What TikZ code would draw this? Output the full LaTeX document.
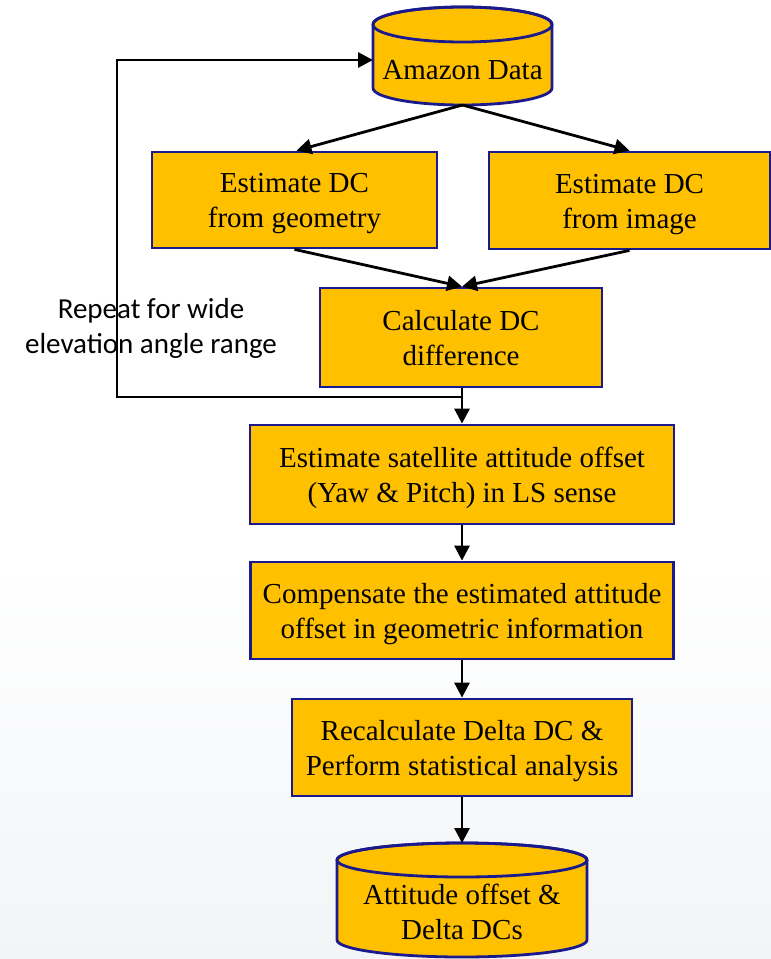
\documentclass[tikz,border=0pt]{standalone}
\usepackage{fontspec}
\setmainfont{Liberation Serif}
\newfontfamily\calib{Carlito}
\usetikzlibrary{arrows.meta}
\definecolor{boxfill}{HTML}{FFC000}
\definecolor{boxline}{HTML}{1A1A8C}
\definecolor{bgbot}{RGB}{242,244,247}
\newcommand{\stT}{\rule{0pt}{27pt}}
\newcommand{\stB}{\rule[-6pt]{0pt}{6pt}}
\begin{document}
\begin{tikzpicture}[x=1pt,y=1pt,
  box/.style={draw=boxline,line width=2.8pt,fill=boxfill,inner sep=0pt,align=center,
    font=\fontsize{29}{35}\selectfont},
  cylbody/.style={draw=boxline,line width=2.8pt,fill=boxfill},
  cyltext/.style={inner sep=0pt,align=center,font=\fontsize{29}{35}\selectfont},
  conn/.style={draw=black,line width=2.8pt},
  arr/.style={conn,-{Triangle[length=15pt,width=15pt]}},
  note/.style={inner sep=0pt,align=center,font=\calib\fontsize{29}{35}\selectfont}]
\useasboundingbox (0,0) rectangle (771,-959);
\fill[white] (0,0) rectangle (771,-959);
\shade[top color=white,bottom color=bgbot] (0,-560) rectangle (771,-959);

% top cylinder
\path[cylbody] (373,-24.5) -- (373,-88) arc[start angle=180,end angle=360,x radius=89.5,y radius=17]
  -- (552,-24.5) arc[start angle=0,end angle=180,x radius=89.5,y radius=17.5] -- cycle;
\draw[draw=boxline,line width=2.8pt] (462.5,-24.5) ellipse[x radius=89.5,y radius=17.5];
\node[cyltext] (amz) at (462.5,-70) {Amazon Data};
\coordinate (amzb) at (462.5,-105);
\coordinate (amzl) at (373,-60);

% boxes
\node[box,minimum width=285pt,minimum height=96pt] (geo) at (294.5,-200) {\stT Estimate DC\\from geometry\stB};
\node[box,minimum width=281pt,minimum height=97pt] (img) at (629.5,-200.5) {\stT Estimate DC\\from image\stB};
\node[box,minimum width=282pt,minimum height=99pt] (calc) at (461,-337.5) {\stT Calculate DC\\difference\stB};
\node[box,minimum width=424pt,minimum height=99pt] (est) at (462,-474.5) {\stT Estimate satellite attitude offset\\(Yaw \& Pitch) in LS sense\stB};
\node[box,minimum width=423pt,minimum height=97pt] (comp) at (462,-610.5) {\stT Compensate the estimated attitude\\offset in geometric information\stB};
\node[box,minimum width=340pt,minimum height=97pt] (recalc) at (462,-747.5) {\stT Recalculate Delta DC \&\\Perform statistical analysis\stB};

% bottom cylinder
\path[cylbody] (337,-860) -- (337,-940) arc[start angle=180,end angle=360,x radius=125,y radius=17]
  -- (587,-860) arc[start angle=0,end angle=180,x radius=125,y radius=17] -- cycle;
\draw[draw=boxline,line width=2.8pt] (462,-860) ellipse[x radius=125,y radius=17];
\node[cyltext] (out) at (462,-912) {Attitude offset \&\\Delta DCs};
\coordinate (outt) at (462,-843);

% note
\node[note] (rep) at (151,-328) {Repeat for wide\\elevation angle range};

% connectors
\draw[arr] (amzb) -- ([xshift=2pt]geo.north);
\draw[arr] (amzb) -- (img.north);
\draw[arr] (geo.south) -- ([xshift=1pt]calc.north);
\draw[arr] (img.south) -- ([xshift=1pt]calc.north);
\draw[arr] ([xshift=1pt]calc.south) -- ([xshift=0pt]est.north);
\coordinate (jn) at (462,-397);
\coordinate (lc) at (117,-397);
\draw[arr] (jn) -- (lc) |- (amzl);
\draw[arr] (est.south) -- (comp.north);
\draw[arr] (comp.south) -- (recalc.north);
\draw[arr] (recalc.south) -- (outt);
\end{tikzpicture}
\end{document}
